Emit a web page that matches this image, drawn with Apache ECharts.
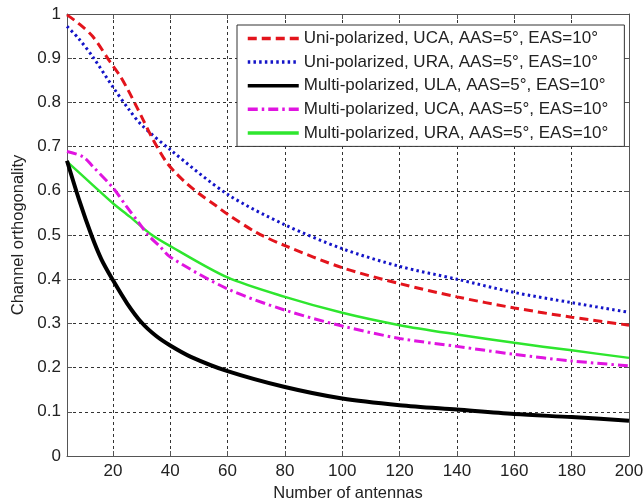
<!DOCTYPE html>
<html>
<head>
<meta charset="utf-8">
<script src="https://cdn.jsdelivr.net/npm/echarts@6/dist/echarts.min.js"></script>
<style>
  html, body { margin: 0; padding: 0; background: #fff; }
  #chart { width: 644px; height: 502px; }
</style>
</head>
<body>
<div id="chart"></div>
<script>
// ---- Data ----
const seriesNames = [
  'Uni-polarized, UCA, AAS=5°, EAS=10°',
  'Uni-polarized, URA, AAS=5°, EAS=10°',
  'Multi-polarized, ULA, AAS=5°, EAS=10°',
  'Multi-polarized, UCA, AAS=5°, EAS=10°',
  'Multi-polarized, URA, AAS=5°, EAS=10°'
];

const uniUcaX = [4, 8, 13, 19, 22.4, 25.3, 28.3, 30.6, 33.5, 36, 39, 42, 46, 50, 56, 60, 70, 80, 100, 120, 140, 160, 180, 200];
const uniUcaY = [0.998, 0.979, 0.949, 0.892, 0.861, 0.828, 0.790, 0.760, 0.722, 0.693, 0.662, 0.640, 0.615, 0.594, 0.566, 0.547, 0.506, 0.476, 0.426, 0.390, 0.360, 0.335, 0.314, 0.296];

const uniUraX = [4, 8, 13, 20, 25.7, 30, 40, 60, 80, 100, 120, 140, 160, 180, 200];
const uniUraY = [0.972, 0.945, 0.903, 0.835, 0.783, 0.749, 0.693, 0.592, 0.523, 0.469, 0.429, 0.400, 0.370, 0.347, 0.325];

const multiUlaX = [4, 8.4, 12.5, 16, 20, 25, 30, 35, 40, 47, 60, 80, 100, 120, 140, 160, 180, 200];
const multiUlaY = [0.668, 0.576, 0.500, 0.445, 0.398, 0.345, 0.302, 0.272, 0.250, 0.225, 0.192, 0.156, 0.130, 0.115, 0.105, 0.095, 0.088, 0.080];

const multiUcaX = [4, 9.6, 13, 20, 24.8, 28.8, 32.3, 36.4, 40, 60, 80, 100, 120, 140, 160, 180, 200];
const multiUcaY = [0.689, 0.677, 0.655, 0.607, 0.564, 0.530, 0.500, 0.474, 0.450, 0.378, 0.330, 0.294, 0.266, 0.248, 0.230, 0.215, 0.204];

const multiUraX = [4, 13, 20, 26, 33, 40, 60, 80, 100, 120, 140, 160, 180, 200];
const multiUraY = [0.666, 0.613, 0.572, 0.541, 0.503, 0.475, 0.404, 0.360, 0.324, 0.296, 0.275, 0.256, 0.239, 0.222];

const xMin = 4, xMax = 200;
const yMin = 0, yMax = 1, yStep = 0.1;

// ---- Build chart ----
function pairs(xs, ys) { return xs.map((x, i) => [x, ys[i]]); }

const FONT = "'Liberation Sans', Arial, Helvetica, sans-serif";
const styles = [
  { color: '#e3141c', width: 3, type: [9, 5] },
  { color: '#1414c8', width: 3, type: [2.5, 3.2] },
  { color: '#000000', width: 4, type: 'solid' },
  { color: '#e014e0', width: 3, type: [10, 4, 2.5, 4] },
  { color: '#2ee62e', width: 2.5, type: 'solid' }
];
const allX = [uniUcaX, uniUraX, multiUlaX, multiUcaX, multiUraX];
const allY = [uniUcaY, uniUraY, multiUlaY, multiUcaY, multiUraY];

const series = seriesNames.map((name, i) => ({
  name: name,
  type: 'line',
  xAxisIndex: 0,
  yAxisIndex: 0,
  data: pairs(allX[i], allY[i]),
  showSymbol: false,
  symbol: 'none',
  smooth: 0.3,
  color: styles[i].color,
  lineStyle: { color: styles[i].color, width: styles[i].width, type: styles[i].type },
  z: 10 - i,
  animation: false
}));

const frameColor = '#555';
const labelColor = '#222';

const chart = echarts.init(document.getElementById('chart'), null, { renderer: 'canvas' });
chart.setOption({
  animation: false,
  backgroundColor: '#ffffff',
  grid: { left: 67, right: 15, top: 14, bottom: 46, containLabel: false, outerBoundsMode: 'none' },
  legend: {
    orient: 'vertical',
    left: 237,
    top: 25,
    data: seriesNames,
    backgroundColor: '#ffffff',
    borderColor: '#333',
    borderWidth: 1,
    padding: [5, 16, 5, 9],
    itemWidth: 51,
    itemHeight: 14,
    itemGap: 6.6,
    itemStyle: { opacity: 0 },
    lineStyle: { width: 3.5 },
    textStyle: { fontFamily: FONT, fontSize: 17, color: labelColor },
    selectedMode: false
  },
  xAxis: [
    {
      type: 'value', min: xMin, max: xMax, splitNumber: 10, position: 'bottom',
      name: 'Number of antennas', nameLocation: 'middle', nameGap: 26,
      nameTextStyle: { fontFamily: FONT, fontSize: 16.5, color: labelColor },
      axisLine: { show: true, onZero: false, lineStyle: { color: frameColor, width: 1 } },
      axisTick: { show: true, inside: true, length: 5, lineStyle: { color: frameColor } },
      axisLabel: {
        fontFamily: FONT, fontSize: 17, color: labelColor, margin: 7,
        formatter: v => (v % 20 === 0 ? String(v) : '')
      },
      splitLine: { show: true, lineStyle: { color: '#333', width: 1, type: [3, 3] } }
    },
    {
      type: 'value', min: xMin, max: xMax, splitNumber: 10, position: 'top',
      axisLine: { show: true, onZero: false, lineStyle: { color: frameColor, width: 1 } },
      axisTick: { show: true, inside: true, length: 5, lineStyle: { color: frameColor } },
      axisLabel: { show: false },
      splitLine: { show: false }
    }
  ],
  yAxis: [
    {
      type: 'value', min: yMin, max: yMax, interval: yStep, position: 'left',
      name: 'Channel orthogonality', nameLocation: 'middle', nameGap: 37,
      nameTextStyle: { fontFamily: FONT, fontSize: 16.5, color: labelColor },
      axisLine: { show: true, onZero: false, lineStyle: { color: frameColor, width: 1 } },
      axisTick: { show: true, inside: true, length: 5, lineStyle: { color: frameColor } },
      axisLabel: { fontFamily: FONT, fontSize: 17, color: labelColor, margin: 6 },
      splitLine: { show: true, lineStyle: { color: '#333', width: 1, type: [3, 3] } }
    },
    {
      type: 'value', min: yMin, max: yMax, interval: yStep, position: 'right',
      axisLine: { show: true, onZero: false, lineStyle: { color: frameColor, width: 1 } },
      axisTick: { show: true, inside: true, length: 5, lineStyle: { color: frameColor } },
      axisLabel: { show: false },
      splitLine: { show: false }
    }
  ],
  series: series
});
</script>
</body>
</html>
